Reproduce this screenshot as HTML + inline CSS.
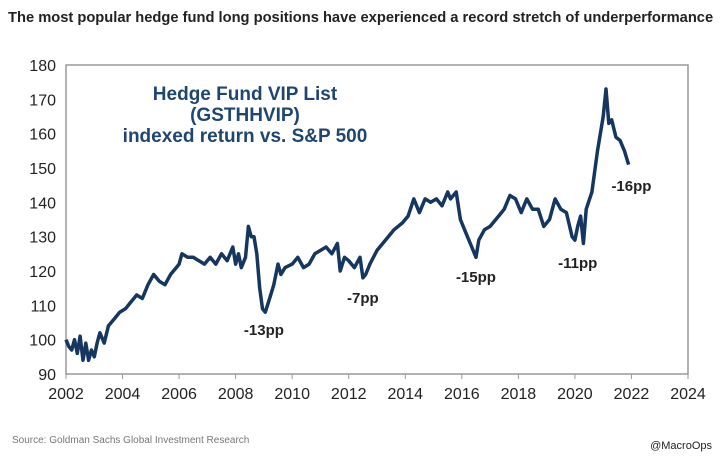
<!DOCTYPE html>
<html><head><meta charset="utf-8"><style>
body{margin:0;background:#fff;width:724px;height:463px;overflow:hidden;font-family:"Liberation Sans",Arial,sans-serif}
</style></head><body>
<svg id="c" width="724" height="463" xmlns="http://www.w3.org/2000/svg">
<text x="8" y="22" font-size="14.7" font-weight="bold" fill="#222">The most popular hedge fund long positions have experienced a record stretch of underperformance</text>
<rect x="66" y="65" width="622" height="309" fill="none" stroke="#999" stroke-width="1.5"/>
<text x="245" y="100" font-size="19" font-weight="bold" fill="#1f4670" text-anchor="middle">Hedge Fund VIP List</text>
<text x="245" y="121" font-size="19" font-weight="bold" fill="#1f4670" text-anchor="middle">(GSTHHVIP)</text>
<text x="245" y="142" font-size="19" font-weight="bold" fill="#1f4670" text-anchor="middle">indexed return vs. S&amp;P 500</text>
<g id="axes"></g>
<path id="line" fill="none" stroke="#15365e" stroke-width="3.5" stroke-linejoin="round"/>
<g id="ann"></g>
<text x="12" y="443" font-size="10" fill="#777">Source: Goldman Sachs Global Investment Research</text>
<text x="712" y="449" font-size="11" fill="#222" text-anchor="end">@MacroOps</text>
</svg>
<script>
const yTicks=[90,100,110,120,130,140,150,160,170,180];
const xTicks=[2002,2004,2006,2008,2010,2012,2014,2016,2018,2020,2022,2024];
const dates=[2002.0,2002.1,2002.2,2002.3,2002.4,2002.5,2002.6,2002.7,2002.8,2002.9,2003.0,2003.1,2003.2,2003.35,2003.5,2003.7,2003.9,2004.1,2004.3,2004.5,2004.7,2004.9,2005.1,2005.3,2005.5,2005.7,2005.9,2006.0,2006.1,2006.3,2006.5,2006.7,2006.9,2007.1,2007.3,2007.5,2007.7,2007.9,2008.0,2008.1,2008.2,2008.35,2008.45,2008.55,2008.65,2008.75,2008.85,2008.95,2009.05,2009.2,2009.35,2009.5,2009.6,2009.75,2010.0,2010.2,2010.4,2010.6,2010.8,2011.0,2011.2,2011.4,2011.6,2011.7,2011.85,2012.0,2012.2,2012.4,2012.5,2012.6,2012.75,2013.0,2013.3,2013.6,2013.9,2014.1,2014.3,2014.5,2014.7,2014.9,2015.1,2015.3,2015.5,2015.6,2015.8,2015.95,2016.1,2016.3,2016.5,2016.6,2016.8,2017.0,2017.3,2017.5,2017.7,2017.9,2018.1,2018.3,2018.5,2018.7,2018.9,2019.1,2019.3,2019.5,2019.7,2019.9,2020.0,2020.1,2020.2,2020.3,2020.4,2020.6,2020.8,2021.0,2021.1,2021.2,2021.3,2021.45,2021.6,2021.75,2021.9];
const values=[100,98,97,100,96,101,94,99,94,97,95,99,102,99,104,106,108,109,111,113,112,116,119,117,116,119,121,122,125,124,124,123,122,124,122,125,123,127,122,125,121,124,133,130,130,125,115,109,108,112,116,122,119,121,122,124,121,122,125,126,127,125,128,120,124,123,121,124,118,119,122,126,129,132,134,136,141,137,141,140,141,139,143,141,143,135,132,128,124,129,132,133,136,138,142,141,137,141,138,138,133,135,141,138,137,130,129,133,136,128,138,143,155,165,173,163,164,159,158,155,151];
const annLabels=["-13pp","-7pp","-15pp","-11pp","-16pp"];
const annX=[2009.0,2012.5,2016.5,2020.1,2022.0];
const annY=[101.4,110.7,116.8,120.9,143.3];
const X=v=>66+(v-2002)*(622/22), Y=v=>374-(v-90)*(309/90);
const NS="http://www.w3.org/2000/svg";
const ax=document.getElementById('axes');
function t(x,y,s,anchor,size,name,parent,weight){const e=document.createElementNS(NS,'text');e.setAttribute('x',x);e.setAttribute('y',y);e.setAttribute('text-anchor',anchor);e.setAttribute('font-size',size);e.setAttribute('fill','#222');if(weight)e.setAttribute('font-weight',weight);e.textContent=s;


parent.appendChild(e);return e;}
yTicks.forEach(v=>{t(56,Y(v)+6,v,'end',16,'y-tick-label',ax);});
xTicks.forEach(v=>{const l=document.createElementNS(NS,'line');l.setAttribute('x1',X(v));l.setAttribute('x2',X(v));l.setAttribute('y1',374);l.setAttribute('y2',379);l.setAttribute('stroke','#999');


ax.appendChild(l);t(X(v),399,v,'middle',16,'x-tick-label',ax);});
document.getElementById('line').setAttribute('d',dates.map((d,i)=>(i?'L':'M')+X(d).toFixed(1)+','+Y(values[i]).toFixed(1)).join(''));
const an=document.getElementById('ann');
annLabels.forEach((s,i)=>{t(X(annX[i]),Y(annY[i]),s,'middle',15,'drawdown-annotation',an,'bold');});
</script>
</body></html>
